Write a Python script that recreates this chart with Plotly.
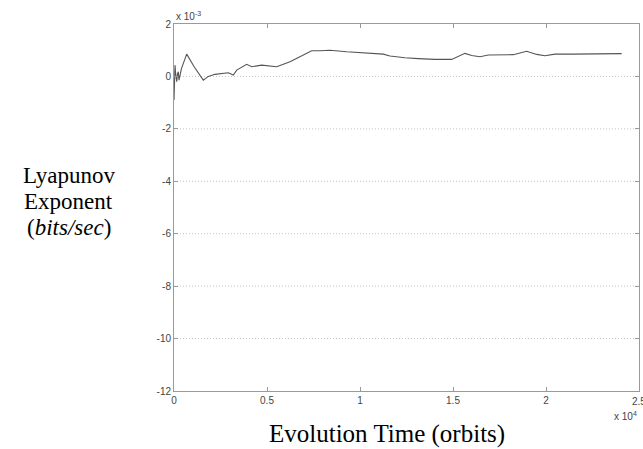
import plotly.graph_objects as go

# Evolution time (orbits) and Lyapunov exponent estimate (units of 1e-3 bits/sec)
orbits = [0, 20, 54, 90, 145, 190, 231, 269, 400, 683, 1100, 1575, 1844, 2204,
          2600, 2919, 3188, 3371, 3908, 4177, 4715, 5161, 5338, 5521, 6236,
          6865, 7403, 7849, 8387, 9284, 10360, 11252, 11612, 11881, 12419,
          13134, 14031, 14929, 15284, 15644, 16004, 16450, 16897, 17617,
          18241, 18962, 19499, 19945, 20483, 21381, 22811, 24069]
lyap_milli = [-0.9, -0.3, 0.43, 0.1, -0.2, 0.1, 0.18, -0.14, 0.3, 0.85, 0.35,
              -0.14, 0.0, 0.08, 0.12, 0.14, 0.05, 0.24, 0.46, 0.37, 0.43, 0.40,
              0.41, 0.37, 0.56, 0.78, 0.98, 0.98, 1.0, 0.94, 0.88, 0.85, 0.78,
              0.75, 0.71, 0.68, 0.65, 0.65, 0.78, 0.88, 0.80, 0.75, 0.82, 0.83,
              0.83, 0.96, 0.84, 0.79, 0.85, 0.85, 0.85, 0.87]

x_tickvals = [0, 5000, 10000, 15000, 20000]
x_ticktext = ["0", "0.5", "1", "1.5", "2"]
y_tickvals = [2, 0, -2, -4, -6, -8, -10, -12]
y_ticktext = ["2", "0", "-2", "-4", "-6", "-8", "-10", "-12"]
y_title_lines = ["Lyapunov", "Exponent", "(<i>bits/sec</i>)"]

tick_font = dict(family="Liberation Sans, Arial", size=10, color="#444444")
frame = "#9a9a9a"

fig = go.Figure()
fig.add_trace(go.Scatter(x=orbits, y=lyap_milli, mode="lines",
                         line=dict(color="#555555", width=1.1),
                         showlegend=False))

# dotted horizontal grid lines
for v in y_tickvals[1:-1]:
    fig.add_shape(type="line", xref="paper", x0=0, x1=1, yref="y", y0=v, y1=v,
                  line=dict(color="#c4c4c4", width=1, dash="1px,2px"),
                  layer="below")

fig.update_xaxes(range=[0, 25000], tickvals=x_tickvals + [25000],
                 ticktext=x_ticktext + [""],
                 ticks="inside", ticklen=4, tickcolor=frame, showline=True,
                 linecolor=frame, linewidth=1, mirror="ticks", showgrid=False,
                 zeroline=False, tickfont=tick_font)
fig.update_yaxes(range=[-12, 2], tickvals=y_tickvals, ticktext=y_ticktext,
                 ticks="inside", ticklen=4, tickcolor=frame, showline=True,
                 linecolor=frame, linewidth=1, mirror="ticks", showgrid=False,
                 zeroline=False, tickfont=tick_font)

# last x tick label sits at the right edge of the page
fig.add_annotation(text="2.5", xref="x", yref="paper", x=25000, y=-0.008,
                   xanchor="center", yanchor="top", showarrow=False,
                   font=tick_font)

serif = "Liberation Serif, Times New Roman, serif"
for i, line in enumerate(y_title_lines):
    fig.add_annotation(text=line, xref="paper", yref="paper",
                       x=-0.226, y=(367 - (175 + 26 * i - 24)) / 367,
                       xanchor="center", yanchor="middle", showarrow=False,
                       font=dict(family=serif, size=23, color="#000000"))
fig.add_annotation(text="Evolution Time (orbits)", xref="paper", yref="paper",
                   x=0.458, y=-(434 - 391) / 367, xanchor="center",
                   yanchor="middle", showarrow=False,
                   font=dict(family=serif, size=25, color="#000000"))
fig.add_annotation(text="x 10<sup>-3</sup>", xref="paper", yref="paper",
                   x=0.0, y=1.0, xanchor="left", yanchor="bottom",
                   showarrow=False, font=tick_font)
fig.add_annotation(text="x 10<sup>4</sup>", xref="paper", yref="paper",
                   x=1.0, y=-0.045, xanchor="right", yanchor="top",
                   showarrow=False, font=tick_font)

fig.update_layout(width=643, height=449,
                  margin=dict(l=174, r=4, t=24, b=58),
                  plot_bgcolor="white", paper_bgcolor="white")

fig.write_html("out.html")
